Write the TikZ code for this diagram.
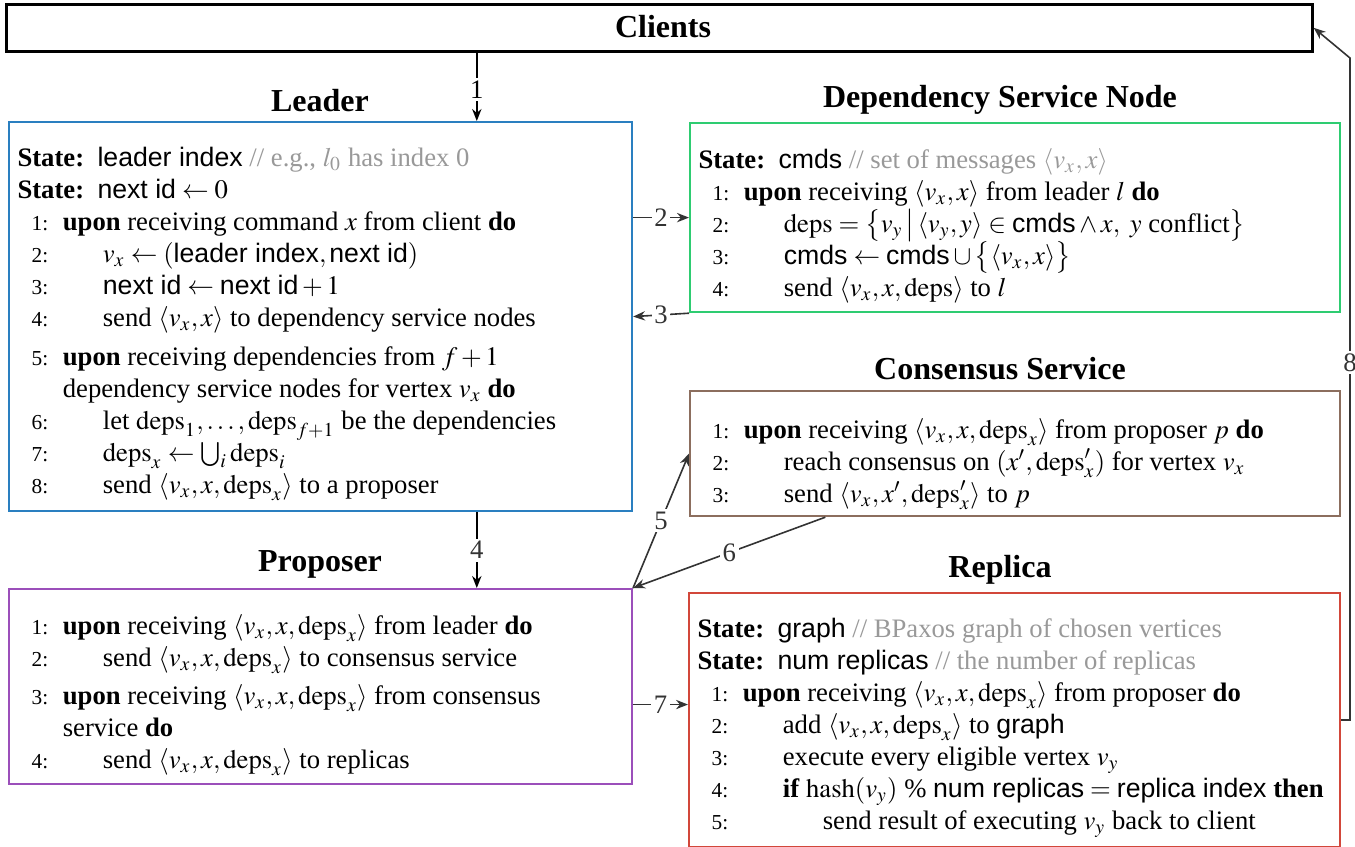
\documentclass[tikz,border=0pt]{standalone}
\usepackage{mathptmx}
\usepackage{fontspec}
\setmainfont{Liberation Serif}
\setsansfont{Liberation Sans}
\usepackage{amsmath}
\usetikzlibrary{calc}
\usetikzlibrary{arrows.meta}

\definecolor{ldrblue}{HTML}{2A7FC0}
\definecolor{depgreen}{HTML}{2ECC71}
\definecolor{conbrown}{HTML}{8C6E5E}
\definecolor{prppurple}{HTML}{9B4FBA}
\definecolor{repred}{HTML}{D2473A}
\definecolor{cmtgray}{HTML}{999999}
\definecolor{arrgray}{HTML}{333333}

\newcommand{\lno}[1]{\makebox[11.5pt][r]{\footnotesize #1:}\hspace{5.5pt}}
\newcommand{\cont}{\hspace*{17pt}}
\newcommand{\ind}{\hspace*{15pt}}
\newcommand{\state}{\textbf{State:}\ \ }
\newcommand{\cmt}[1]{{\color{cmtgray}// #1}}
\newcommand{\tup}[1]{\langle #1\rangle}
\newcommand{\dps}{\mathrm{deps}}
\newcommand{\msgx}{\tup{v_x,x,\dps_x}}

\tikzset{
  box/.style={draw=#1, line width=0.8pt, rectangle, anchor=north west, inner sep=0pt},
  title/.style={font=\large\bfseries, anchor=base, inner sep=0pt},
  algo/.style={anchor=north west, align=left, inner sep=0pt,
    font=\fontsize{10pt}{12pt}\selectfont},
  msg/.style={draw=arrgray, line width=0.6pt, -{Stealth[length=4.5pt,width=3.5pt]}},
  lbl/.style={fill=white, inner sep=1pt, text=arrgray, font=\fontsize{10pt}{12pt}\selectfont}
}

\begin{document}
\begin{tikzpicture}[x=0.375pt, y=-0.375pt]
  \useasboundingbox (0,0) rectangle (1355,847);

  % clients
  \node[box=black, line width=1pt, minimum width=489.75pt, minimum height=17.6pt] (clients) at (5,3) {};
  \node[title] (clientstitle) at (663,37) {Clients};

  % leader
  \node[title] (leadertitle) at (320,111) {Leader};
  \node[box=ldrblue, minimum width=233.6pt, minimum height=145.9pt] (leader) at (8,121) {};
  \node[algo] (leadertext) at ($(leader.north west)+(9,26)$) {%
    \state\textsf{leader index} \cmt{e.g., $l_0$ has index 0}\\
    \state$\textsf{next id} \leftarrow 0$\\
    \lno{1}\textbf{upon} receiving command $x$ from client \textbf{do}\\
    \lno{2}\ind$v_x \leftarrow (\textsf{leader index}, \textsf{next id})$\\
    \lno{3}\ind$\textsf{next id} \leftarrow \textsf{next id} + 1$\\
    \lno{4}\ind send $\tup{v_x,x}$ to dependency service nodes\\[2.5pt]
    \lno{5}\textbf{upon} receiving dependencies from $f+1$\\
    \cont dependency service nodes for vertex $v_x$ \textbf{do}\\
    \lno{6}\ind let $\dps_1,\ldots,\dps_{f+1}$ be the dependencies\\
    \lno{7}\ind$\dps_x \leftarrow \bigcup_i \dps_i$\\
    \lno{8}\ind send $\msgx$ to a proposer};

  % dependency service node
  \node[title] (depstitle) at (1000,107) {Dependency Service Node};
  \node[box=depgreen, minimum width=243.75pt, minimum height=70.9pt] (deps) at (689,122) {};
  \node[algo] (depstext) at ($(deps.north west)+(9,26)$) {%
    \state\textsf{cmds} \cmt{set of messages $\tup{v_x,x}$}\\
    \lno{1}\textbf{upon} receiving $\tup{v_x,x}$ from leader $l$ \textbf{do}\\
    \lno{2}\ind$\dps = \bigl\{v_y \,\big|\, \tup{v_y,y} \in \textsf{cmds} \wedge x,\ y \text{ conflict}\bigr\}$\\
    \lno{3}\ind$\textsf{cmds} \leftarrow \textsf{cmds} \cup \bigl\{\tup{v_x,x}\bigr\}$\\
    \lno{4}\ind send $\tup{v_x,x,\dps}$ to $l$};

  % consensus service
  \node[title] (constitle) at (1000,379) {Consensus Service};
  \node[box=conbrown, minimum width=243.75pt, minimum height=46.9pt] (cons) at (689,390) {};
  \node[algo] (constext) at ($(cons.north west)+(9,28)$) {%
    \lno{1}\textbf{upon} receiving $\msgx$ from proposer $p$ \textbf{do}\\
    \lno{2}\ind reach consensus on $(x',\dps'_x)$ for vertex $v_x$\\
    \lno{3}\ind send $\tup{v_x,x',\dps'_x}$ to $p$};

  % proposer
  \node[title] (proptitle) at (320,571) {Proposer};
  \node[box=prppurple, minimum width=233.6pt, minimum height=73.1pt] (prop) at (8,588) {};
  \node[algo] (proptext) at ($(prop.north west)+(9,26)$) {%
    \lno{1}\textbf{upon} receiving $\msgx$ from leader \textbf{do}\\
    \lno{2}\ind send $\msgx$ to consensus service\\[2.5pt]
    \lno{3}\textbf{upon} receiving $\msgx$ from consensus\\
    \cont service \textbf{do}\\
    \lno{4}\ind send $\msgx$ to replicas};

  % replica
  \node[title] (repltitle) at (1000,577) {Replica};
  \node[box=repred, minimum width=244.1pt, minimum height=95.2pt] (repl) at (688,592) {};
  \node[algo] (repltext) at ($(repl.north west)+(9,26)$) {%
    \state\textsf{graph} \cmt{BPaxos graph of chosen vertices}\\
    \state\textsf{num replicas} \cmt{the number of replicas}\\
    \lno{1}\textbf{upon} receiving $\msgx$ from proposer \textbf{do}\\
    \lno{2}\ind add $\msgx$ to \textsf{graph}\\
    \lno{3}\ind execute every eligible vertex $v_y$\\
    \lno{4}\ind\textbf{if} $\mathrm{hash}(v_y)$ \% $\textsf{num replicas} = \textsf{replica index}$ \textbf{then}\\
    \lno{5}\ind\ind send result of executing $v_y$ back to client};

  % messages
  \coordinate (ldrtop) at ($(leader.north west)!0.75!(leader.north east)$);
  \coordinate (consout) at ($(cons.south west)!0.209!(cons.south east)$);
  \coordinate (propout) at ($(prop.east)+(0,18)$);
  \coordinate (bend8) at (1350,58);

  \draw[msg, draw=black] (ldrtop |- clients.south) -- node[lbl, pos=0.54, text=black] {1} (ldrtop);
  \draw[msg] (leader.east |- deps.west) -- node[lbl] {2} (deps.west);
  \draw[msg] (deps.south west) -- node[lbl] {3} (leader.east);
  \draw[msg, draw=black] (ldrtop |- leader.south) -- node[lbl] {4} (ldrtop |- prop.north);
  \draw[msg] (prop.north east) -- node[lbl] {5} (cons.west);
  \draw[msg] (consout) -- node[lbl] {6} (prop.north east);
  \draw[msg] (propout) -- node[lbl] {7} (propout -| repl.west);
  \draw[msg] (repl.east) -| node[lbl, pos=0.77] {8} (bend8) -- (clients.east);
\end{tikzpicture}
\end{document}
